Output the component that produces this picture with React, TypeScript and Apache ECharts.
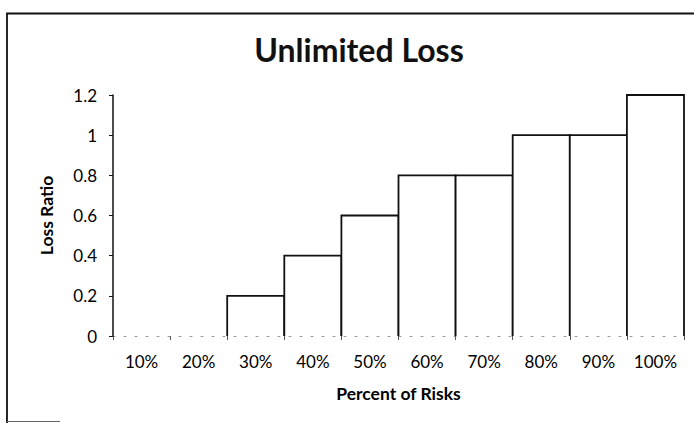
import React, { useEffect, useRef } from "react";
import * as echarts from "echarts";

// Share of risks (x) against the loss ratio reached in that band (y)
const categories = ["10%", "20%", "30%", "40%", "50%", "60%", "70%", "80%", "90%", "100%"];
const lossRatios = [0, 0, 0.2, 0.4, 0.6, 0.8, 0.8, 1, 1, 1.2];

const chartTitle = "Unlimited Loss";
const xAxisTitle = "Percent of Risks";
const yAxisTitle = "Loss Ratio";

const FONT = "Lato, 'Noto Sans', sans-serif";

// Open-bottomed bar outline: left side, top, right side, sitting on the faint x axis
function renderOutlineBar(params: any, api: any) {
  const idx = api.value(0);
  const val = api.value(1);
  if (!val) return null;
  const base = api.coord([idx, 0]);
  const top = api.coord([idx, val]);
  const w = api.size([1, 0])[0];
  const x0 = base[0] - w / 2;
  const x1 = base[0] + w / 2;
  return {
    type: "group",
    children: [
      {
        type: "rect",
        shape: { x: x0, y: top[1], width: w, height: base[1] - top[1] },
        style: { fill: "#ffffff", stroke: "none" },
      },
      {
        type: "polyline",
        shape: { points: [[x0, base[1]], [x0, top[1]], [x1, top[1]], [x1, base[1]]] },
        style: { fill: "none", stroke: "#111", lineWidth: 1.8 },
      },
    ],
  };
}

export default function App() {
  const ref = useRef<HTMLDivElement>(null);

  useEffect(() => {
    if (!ref.current) return;
    const chart = echarts.init(ref.current, null, { renderer: "svg" });
    chart.setOption({
      animation: false,
      backgroundColor: "#ffffff",
      textStyle: { fontFamily: FONT },
      grid: { left: 113, right: 10, top: 95, bottom: 87, containLabel: false },
      graphic: [
        {
          type: "polyline",
          shape: { points: [[7, 440], [7, 13.5], [720, 13.5]] },
          style: { fill: "none", stroke: "#111", lineWidth: 1.8 },
          silent: true,
        },
        {
          type: "line",
          shape: { x1: 7, y1: 421.5, x2: 60, y2: 421.5 },
          style: { stroke: "#666", lineWidth: 1 },
          silent: true,
        },
        {
          type: "text",
          x: 359,
          y: 49,
          style: {
            text: chartTitle,
            textAlign: "center",
            textVerticalAlign: "middle",
            fontFamily: FONT,
            fontWeight: "bold",
            fontSize: 32,
            fill: "#111",
          },
        },
      ],
      xAxis: {
        type: "category",
        data: categories,
        name: xAxisTitle,
        nameLocation: "middle",
        nameGap: 48,
        nameTextStyle: { fontFamily: FONT, fontWeight: "bold", fontSize: 17.5, color: "#000" },
        axisLine: { show: true, lineStyle: { color: "#9a9a9a", width: 1, type: [2, 9] } },
        axisTick: { show: true, length: 4, lineStyle: { color: "#555" } },
        axisLabel: { fontFamily: FONT, fontSize: 17, color: "#000", margin: 17 },
        splitLine: { show: false },
      },
      yAxis: {
        type: "value",
        min: 0,
        max: 1.2,
        interval: 0.2,
        name: yAxisTitle,
        nameLocation: "middle",
        nameGap: 58,
        nameTextStyle: { fontFamily: FONT, fontWeight: "bold", fontSize: 17.5, color: "#000" },
        axisLine: { show: true, lineStyle: { color: "#111", width: 1.5 } },
        axisTick: { show: true, length: 4, lineStyle: { color: "#111" } },
        axisLabel: { fontFamily: FONT, fontSize: 17, color: "#000", margin: 16 },
        splitLine: { show: false },
      },
      series: [
        {
          type: "custom",
          renderItem: renderOutlineBar,
          data: lossRatios.map((v, i) => [i, v]),
          encode: { x: 0, y: 1 },
          silent: true,
        },
      ],
    });
    return () => chart.dispose();
  }, []);

  return (
    <div
      ref={ref}
      style={{ position: "absolute", left: 0, top: 0, width: 694, height: 423, background: "#fff" }}
    />
  );
}
